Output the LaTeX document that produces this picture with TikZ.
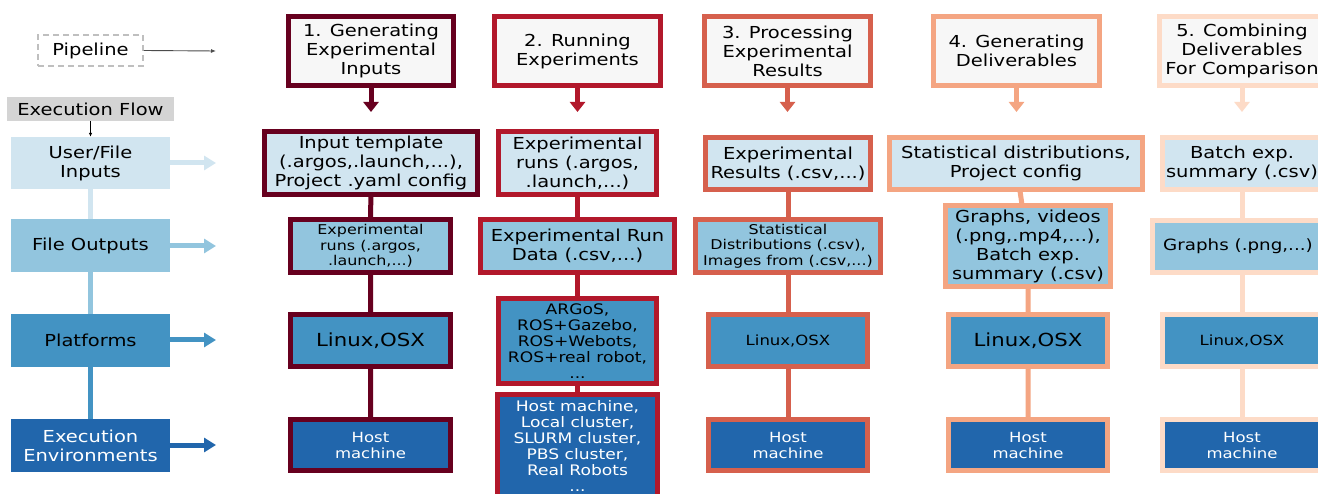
\documentclass[tikz,border=0pt]{standalone}
\usepackage{fontspec}
\setmainfont{DejaVu Sans}[FakeStretch=1.18]
\usetikzlibrary{arrows.meta}
\definecolor{cA}{HTML}{67001F}
\definecolor{cB}{HTML}{B2182B}
\definecolor{cC}{HTML}{D6604D}
\definecolor{cD}{HTML}{F4A582}
\definecolor{cE}{HTML}{FDDBC7}
\definecolor{hbg}{HTML}{F7F7F7}
\definecolor{rA}{HTML}{D1E5F0}
\definecolor{rB}{HTML}{92C5DE}
\definecolor{rC}{HTML}{4393C3}
\definecolor{rD}{HTML}{2166AC}
\definecolor{flowgray}{HTML}{D4D4D4}
\newcommand\fsz[2]{\fontsize{#1}{#2}\selectfont}
\tikzset{
  cbox/.style={draw, line width=5pt, align=center, inner sep=0pt, text=black, font=\fsz{16.5}{19}},
  hdr/.style={cbox, fill=hbg},
  rowA/.style={cbox, fill=rA},
  rowB/.style={cbox, fill=rB},
  rowC/.style={cbox, fill=rC},
  rowD/.style={cbox, fill=rD, text=white, font=\fsz{14}{16}},
  small/.style={font=\fsz{13.5}{15.5}},
  mid/.style={font=\fsz{14.5}{16}},
  big/.style={font=\fsz{18}{19}},
  lbox/.style={align=center, inner sep=0pt, minimum width=159pt, minimum height=52pt, font=\fsz{16.5}{19}},
  conn/.style={line width=5pt},
  harrow/.style={line width=5pt, -{Triangle[length=10pt,width=15pt]}},
  larrow/.style={line width=5pt, -{Triangle[length=12pt,width=14pt]}},
}
\begin{document}
\begin{tikzpicture}[x=1pt,y=-1pt]
\useasboundingbox (0,0) rectangle (1318,494);
\fill[white] (0,0) rectangle (1318,494);
\clip (0,0) rectangle (1318,494);

% ---------- left legend column ----------
\node[draw=black!25, dash pattern=on 6pt off 4pt, line width=1.5pt, minimum width=105pt, minimum height=31pt, inner sep=0pt, font=\fsz{16.5}{19}] (pipe) at (90.5,50.5) {Pipeline};
\coordinate (pipeend) at (216,51);
\draw[black!70, line width=0.9pt, -{Latex[length=5pt,width=4pt]}] (pipe.east) -- (pipeend);

\node[fill=flowgray, minimum width=167pt, minimum height=24pt, inner sep=0pt, font=\fsz{16.5}{19}] (flow) at (90.5,109) {Execution Flow};

\node[lbox, fill=rA] (uin) at (90.5,163) {User/File\\Inputs};
\node[lbox, fill=rB, minimum height=53pt] (uout) at (90.5,245.5) {File Outputs};
\node[lbox, fill=rC, minimum height=53pt] (plat) at (90.5,340.5) {Platforms};
\node[lbox, fill=rD, minimum height=53pt, text=white] (env) at (90.5,445.5) {Execution\\Environments};

\draw[black, line width=0.8pt, -{Latex[length=4pt,width=3.5pt]}] (flow.south) -- (uin.north);
\draw[conn, rA] (uin.south) -- (uout.north);
\draw[conn, rB] (uout.south) -- (plat.north);
\draw[conn, rC] (plat.south) -- (env.north);

\coordinate (ta) at (216,163);
\coordinate (tb) at (216,246);
\coordinate (tc) at (216,340);
\coordinate (td) at (216,445);
\draw[larrow, rA] (uin.east |- ta) -- (ta);
\draw[larrow, rB] (uout.east |- tb) -- (tb);
\draw[larrow, rC] (plat.east |- tc) -- (tc);
\draw[larrow, rD] (env.east |- td) -- (td);

% ---------- arrow targets under headers ----------
\coordinate (aA) at (371,112);
\coordinate (aB) at (577.5,112);
\coordinate (aC) at (787.5,112);
\coordinate (aD) at (1016.5,112);
\coordinate (aE) at (1242,112);

% ---------- connectors (drawn first, behind boxes) ----------
\coordinate (iA) at (371,163);
\coordinate (oA) at (370.5,246);
\coordinate (pA) at (370.5,340.5);
\coordinate (eA) at (370.5,445);
\draw[conn, cA] (iA) -- (oA) -- (pA) -- (eA);
\coordinate (iB) at (577.5,163);
\coordinate (eB) at (577.5,446);
\draw[conn, cB] (iB) -- (eB);
\coordinate (iC) at (788,163.5);
\coordinate (eC) at (788,445);
\draw[conn, cC] (iC) -- (eC);
\coordinate (iD) at (1016,163.5);
\coordinate (oD) at (1028,246);
\coordinate (eD) at (1028,445);
\draw[conn, cD] (iD) -- (oD) -- (eD);
\coordinate (iE) at (1242,163.5);
\coordinate (eE) at (1242,445);
\draw[conn, cE] (iE) -- (eE);

% ---------- column 1 ----------
\node[hdr, draw=cA, minimum width=165pt, minimum height=69pt] (h1) at (371,51) {1. Generating\\Experimental\\Inputs};
\node[rowA, draw=cA, minimum width=213pt, minimum height=63pt] (i1) at (iA) {Input template\\(.argos,.launch,...),\\Project .yaml config};
\node[rowB, draw=cA, small, minimum width=160pt, minimum height=53pt] (o1) at (oA) {Experimental\\runs (.argos,\\.launch,...)};
\node[rowC, draw=cA, big, minimum width=160pt, minimum height=52pt] (p1) at (pA) {Linux,OSX};
\node[rowD, draw=cA, minimum width=160pt, minimum height=51pt] (e1) at (eA) {Host\\machine};
\draw[harrow, cA] (h1.south) -- (aA);

% ---------- column 2 ----------
\node[hdr, draw=cB, minimum width=166pt, minimum height=69pt] (h2) at (577.5,51) {2. Running\\Experiments};
\node[rowA, draw=cB, minimum width=158pt, minimum height=63pt] (i2) at (iB) {Experimental\\runs (.argos,\\.launch,...)};
\node[rowB, draw=cB, minimum width=194pt, minimum height=53pt] (o2) at (577.5,246) {Experimental Run\\Data (.csv,...)};
\node[rowC, draw=cB, mid, minimum width=158pt, minimum height=85pt] (p2) at (577.5,341) {ARGoS,\\ROS+Gazebo,\\ROS+Webots,\\ROS+real robot,\\...};
\node[rowD, draw=cB, mid, minimum width=160pt, minimum height=103pt] (e2) at (eB) {Host machine,\\Local cluster,\\SLURM cluster,\\PBS cluster,\\Real Robots\\...};
\draw[harrow, cB] (h2.south) -- (aB);

% ---------- column 3 ----------
\node[hdr, draw=cC, minimum width=166pt, minimum height=69pt] (h3) at (787.5,51) {3. Processing\\Experimental\\Results};
\node[rowA, draw=cC, minimum width=165pt, minimum height=52pt] (i3) at (iC) {Experimental\\Results (.csv,...)};
\node[rowB, draw=cC, small, minimum width=185pt, minimum height=53pt] (o3) at (788,246) {Statistical\\Distributions (.csv),\\Images from (.csv,...)};
\node[rowC, draw=cC, font=\fsz{14}{16}, minimum width=159pt, minimum height=52pt] (p3) at (788,340.5) {Linux,OSX};
\node[rowD, draw=cC, minimum width=159pt, minimum height=51pt] (e3) at (eC) {Host\\machine};
\draw[harrow, cC] (h3.south) -- (aC);

% ---------- column 4 ----------
\node[hdr, draw=cD, minimum width=166pt, minimum height=69pt] (h4) at (1016.5,51) {4. Generating\\Deliverables};
\node[rowA, draw=cD, minimum width=253pt, minimum height=52pt] (i4) at (iD) {Statistical distributions,\\Project config};
\node[rowB, draw=cD, minimum width=165pt, minimum height=81pt] (o4) at (oD) {Graphs, videos\\(.png,.mp4,...),\\Batch exp.\\summary (.csv)};
\node[rowC, draw=cD, big, minimum width=159pt, minimum height=52pt] (p4) at (1028,340.5) {Linux,OSX};
\node[rowD, draw=cD, minimum width=159pt, minimum height=51pt] (e4) at (eD) {Host\\machine};
\draw[harrow, cD] (h4.south) -- (aD);

% ---------- column 5 ----------
\node[hdr, draw=cE, minimum width=165pt, minimum height=69pt] (h5) at (1242,51) {5. Combining\\Deliverables\\For Comparison};
\node[rowA, draw=cE, minimum width=159pt, minimum height=52pt] (i5) at (iE) {Batch exp.\\summary (.csv)};
\node[rowB, draw=cE, font=\fsz{15.5}{19}, minimum width=171pt, minimum height=52pt] (o5) at (1238,246.5) {Graphs (.png,...)};
\node[rowC, draw=cE, font=\fsz{14}{16}, minimum width=159pt, minimum height=52pt] (p5) at (1242,340.5) {Linux,OSX};
\node[rowD, draw=cE, minimum width=159pt, minimum height=51pt] (e5) at (eE) {Host\\machine};
\draw[harrow, cE] (h5.south) -- (aE);
\end{tikzpicture}
\end{document}
